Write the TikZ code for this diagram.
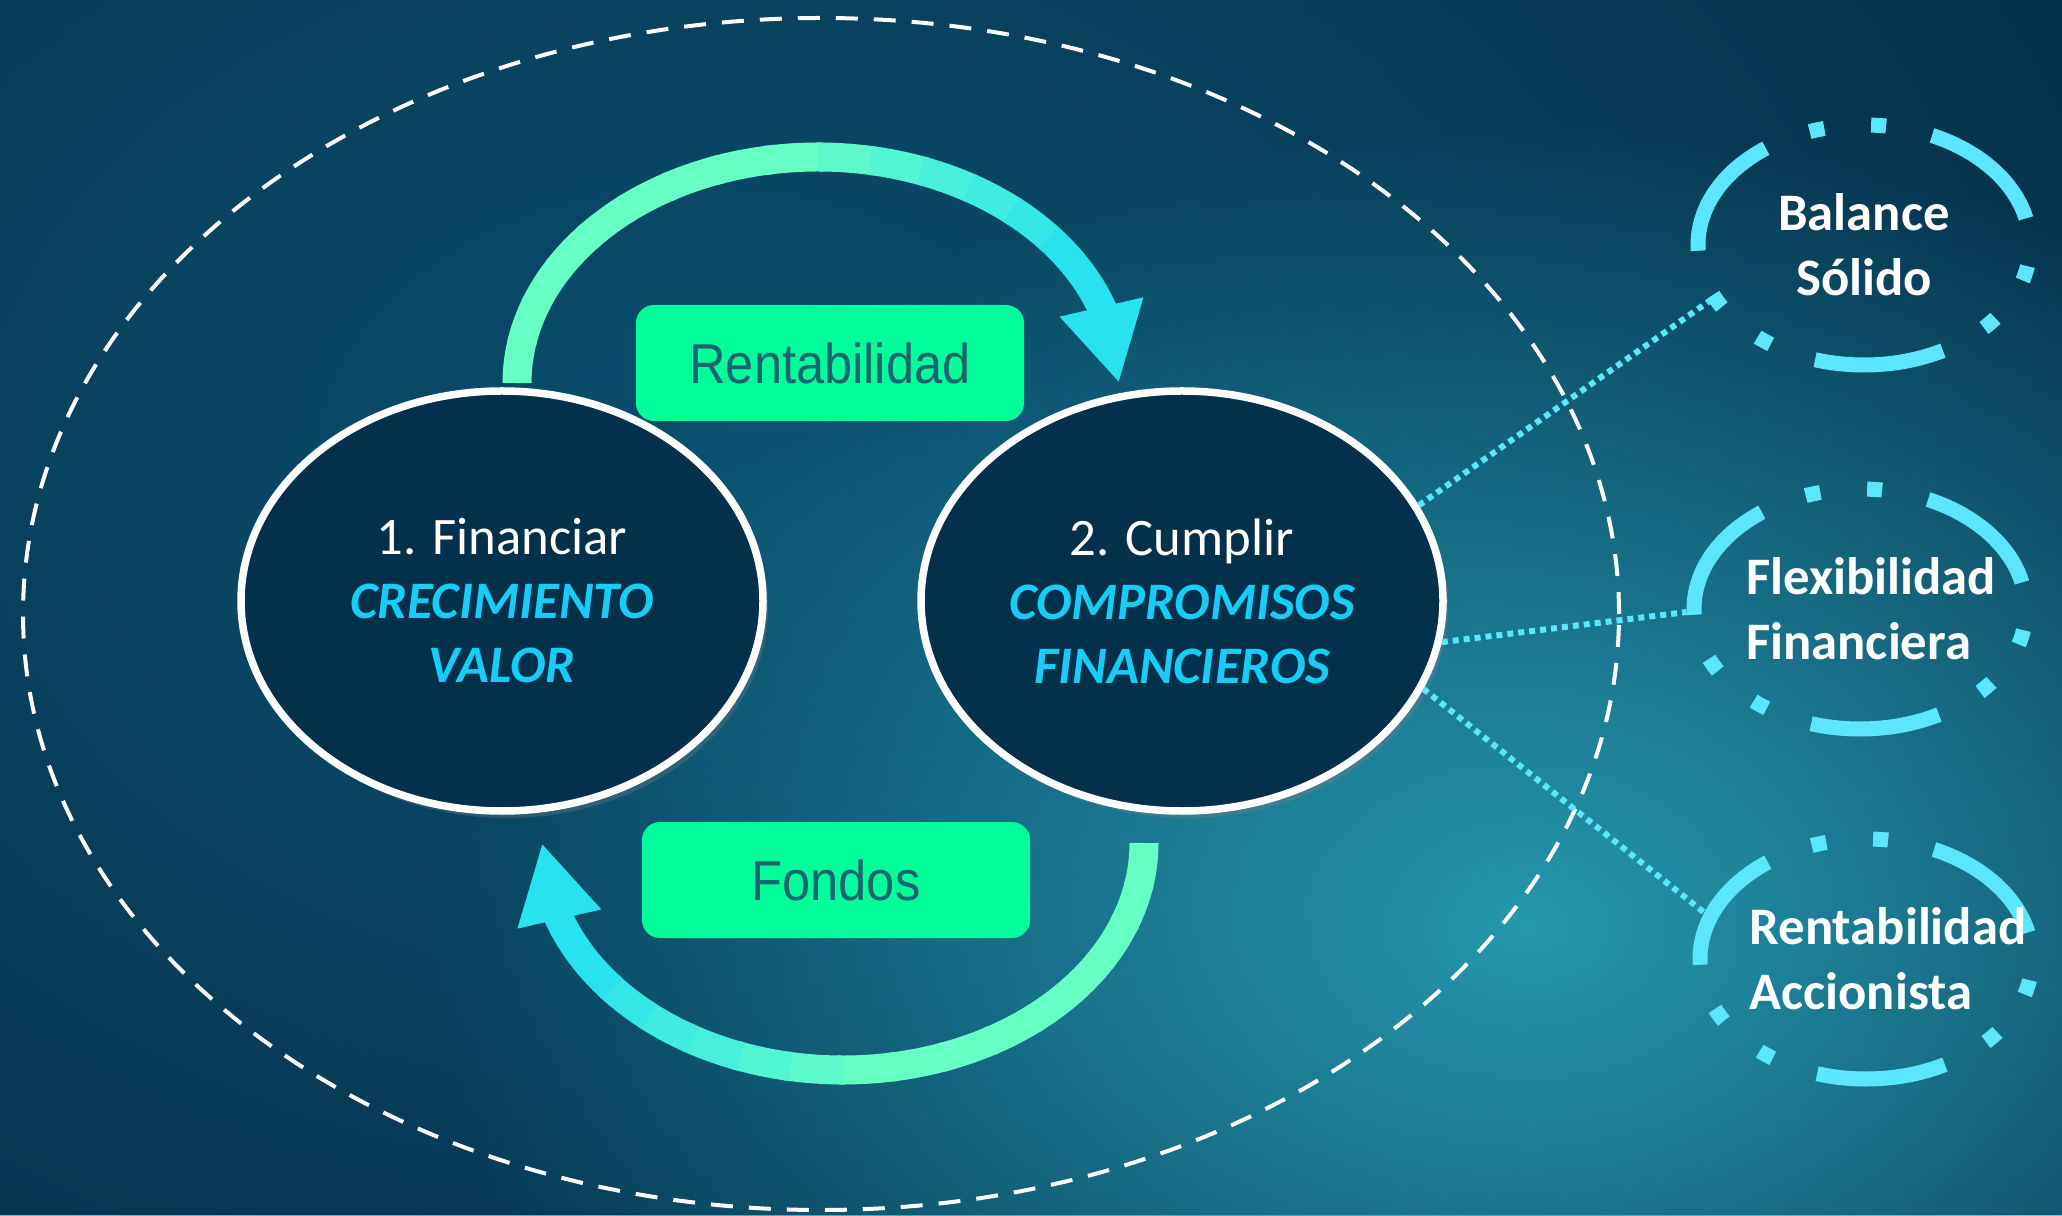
\documentclass[tikz,border=0pt]{standalone}
\usepackage{fontspec}
\setmainfont{Carlito}
\newfontfamily\cajafont[FakeStretch=0.9]{Liberation Sans}
\usetikzlibrary{shapes.geometric,arrows.meta,bending,fadings,shadows}

\definecolor{fondo}{HTML}{03243A}
\definecolor{brilloA}{HTML}{0A4F6E}
\definecolor{brilloB}{HTML}{2698AF}
\definecolor{marino}{HTML}{03304A}
\definecolor{cian}{HTML}{18CCF5}
\definecolor{celeste}{HTML}{5BE5FF}
\definecolor{menta}{HTML}{66FFC4}
\definecolor{turquesa}{HTML}{29E2EF}
\definecolor{verde}{HTML}{00FE9A}
\definecolor{tinta}{HTML}{1A6470}

\tikzfading[name=difuso, inner color=transparent!0, outer color=transparent!100]

\newcommand{\resalta}[1]{\textcolor{cian}{\bfseries\itshape #1}}

\begin{document}
\begin{tikzpicture}[
  ciclo/.style={ellipse, draw=white, line width=0.075cm, fill=marino,
    minimum width=5.22cm, minimum height=4.2cm, inner sep=0pt,
    text=white, align=center, font=\fontsize{15}{18.2}\selectfont,
    drop shadow={shadow xshift=0.05cm, shadow yshift=-0.07cm, opacity=0.3}},
  rotulo/.style={rectangle, rounded corners=0.18cm, fill=verde,
    minimum width=3.88cm, minimum height=1.16cm, text=tinta,
    font=\cajafont\fontsize{16}{18}\selectfont},
  anillo/.style={ellipse, draw=celeste, line width=0.15cm,
    dash pattern=on 1.3cm off 0.47cm on 0.15cm off 0.47cm on 0.15cm off 0.47cm,
    dash phase=2.74cm, minimum width=3.32cm, minimum height=2.4cm, inner sep=0pt},
  lema/.style={text=white, font=\bfseries\fontsize{15}{18.5}\selectfont, inner sep=0pt},
  enlace/.style={draw=celeste, line width=0.06cm, dash pattern=on 0.06cm off 0.05cm},
  flecha/.style={line width=0.29cm},
  punta/.style={-{Triangle[length=0.78cm, width=0.8cm, flex]}}
]
\useasboundingbox (0,0) rectangle (20.62,12.15);

% fondo
\fill[fondo] (0,0) rectangle (20.62,12.15);
\fill[brilloA, path fading=difuso] (7,7.5) ellipse [x radius=22, y radius=16];
\fill[brilloB, path fading=difuso] (15.3,2.9) ellipse [x radius=11, y radius=8];

\draw[white, line width=0.04cm, dash pattern=on 0.22cm off 0.16cm] (8.21,6.01) ellipse [x radius=7.98, y radius=5.96];

% flechas del ciclo
\coordinate (giroA) at (8.18,8.32);
\coordinate (giroB) at (8.43,3.72);
\foreach \a in {180,170,...,50}{
  \pgfmathtruncatemacro{\p}{max(0,min(100,(100-\a)*100/60))}
  \draw[flecha, turquesa!\p!menta] (giroA) ++(\a:3.01 and 2.26) arc[start angle=\a, delta angle=-11, x radius=3.01, y radius=2.26];
}
\draw[flecha, punta, turquesa] (giroA) ++(40:3.01 and 2.26) arc[start angle=40, end angle=0, x radius=3.01, y radius=2.26];
\foreach \a in {0,-10,...,-130}{
  \pgfmathtruncatemacro{\p}{max(0,min(100,(-80-\a)*100/60))}
  \draw[flecha, turquesa!\p!menta] (giroB) ++(\a:3.01 and 2.27) arc[start angle=\a, delta angle=-11, x radius=3.01, y radius=2.27];
}
\draw[flecha, punta, turquesa] (giroB) ++(-140:3.01 and 2.27) arc[start angle=-140, end angle=-180, x radius=3.01, y radius=2.27];

\node[ciclo] (fin) at (5.02,6.14) {1. Financiar\\\resalta{CRECIMIENTO}\\\resalta{VALOR}};
\node[ciclo] (cump) at (11.82,6.14) {2. Cumplir\\\resalta{COMPROMISOS}\\\resalta{FINANCIEROS}};

\node[rotulo] (rent) at (8.30,8.52) {Rentabilidad};
\node[rotulo] (fond) at (8.36,3.35) {Fondos};

% objetivos
\node[anillo] (bal) at (18.64,9.70) {};
\node[anillo] (flexib) at (18.60,6.06) {};
\node[anillo] (acc) at (18.66,2.56) {};

\draw[enlace] (cump.22) -- (bal.200);
\draw[enlace] (cump.-9) -- (flexib.181);
\draw[enlace] (cump.-20) -- (acc.164);

\node[lema, align=center] (baltxt) at (bal.center) {Balance\\Sólido};
\node[lema, align=left] (flextxt) at ([xshift=0.11cm]flexib.center) {Flexibilidad\\Financiera};
\node[lema, align=left] (acctxt) at ([xshift=0.22cm]acc.center) {Rentabilidad\\Accionista};

\end{tikzpicture}
\end{document}
